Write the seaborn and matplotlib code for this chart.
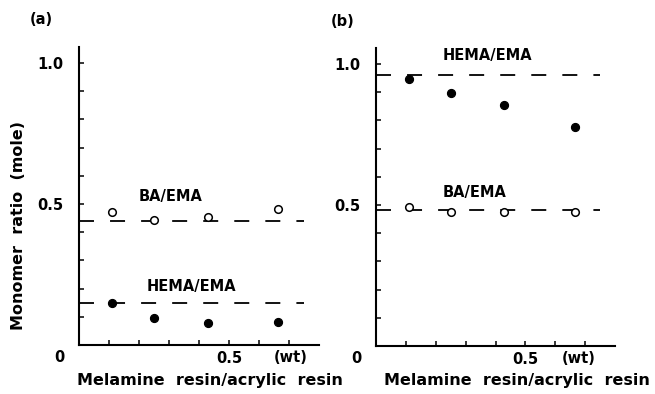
import matplotlib
matplotlib.use("Agg")
import matplotlib.pyplot as plt
import seaborn as sns
import pandas as pd

# Melamine resin / acrylic resin weight ratio of each sample
resin_ratio = [0.11, 0.25, 0.43, 0.665]

# (a) measured monomer ratios
a_ba = [0.470, 0.443, 0.455, 0.481]
a_hema = [0.148, 0.095, 0.077, 0.080]
a_ba_feed = 0.441
a_hema_feed = 0.148

# (b) measured monomer ratios
b_hema = [0.947, 0.896, 0.854, 0.776]
b_ba = [0.492, 0.474, 0.476, 0.474]
b_hema_feed = 0.960
b_ba_feed = 0.482

feed_line_end = 0.75
y_ticks = [i / 10 for i in range(1, 11)]
x_ticks = [i / 10 for i in range(1, 8)]
y_tick_labels = {0.5: "0.5", 1.0: "1.0"}
x_tick_labels = {0.5: "0.5"}

sns.set_style("white")
plt.rcParams["font.family"] = ["DejaVu Sans"]
plt.rcParams["font.weight"] = "bold"
plt.rcParams["text.color"] = "black"

fig = plt.figure(figsize=(6.55, 3.94), dpi=100)
ax_a = fig.add_axes([0.1206, 0.1244, 0.3664, 0.7563])
ax_b = fig.add_axes([0.5740, 0.1218, 0.3650, 0.7563])

FS = 10.5


def draw_panel(ax, ba, hema, ba_feed, hema_feed, labels, tag, tag_xy, wt_x):
    df_ba = pd.DataFrame({"x": resin_ratio, "y": ba})
    df_hema = pd.DataFrame({"x": resin_ratio, "y": hema})
    for level in (ba_feed, hema_feed):
        sns.lineplot(x=[0, feed_line_end], y=[level, level], ax=ax, color="black",
                     lw=1.3, dashes=(8.3, 8.9), zorder=1)
    sns.scatterplot(data=df_ba, x="x", y="y", ax=ax, marker="o", s=30,
                    facecolor="white", edgecolor="black", linewidth=1.1, zorder=3)
    sns.scatterplot(data=df_hema, x="x", y="y", ax=ax, marker="o", s=34,
                    color="black", edgecolor="black", linewidth=0.8, zorder=3)
    for text, (tx, ty) in labels:
        ax.text(tx, ty, text, fontsize=FS, fontweight="bold", ha="left",
                va="center", color="black")

    ax.set_xlim(0, 0.8)
    ax.set_ylim(0, 1.057)
    ax.set_xticks(x_ticks)
    ax.set_xticklabels([x_tick_labels.get(round(t, 1), "") for t in x_ticks])
    ax.set_yticks(y_ticks)
    ax.set_yticklabels([y_tick_labels.get(round(t, 1), "") for t in y_ticks])
    ax.tick_params(axis="both", direction="in", length=3.5, width=1.1,
                   color="black", labelsize=FS, labelcolor="black",
                   bottom=True, left=True)
    ax.tick_params(axis="y", pad=11)
    ax.tick_params(axis="x", pad=4)
    for lab in ax.get_xticklabels() + ax.get_yticklabels():
        lab.set_fontweight("bold")
    for side in ("top", "right"):
        ax.spines[side].set_visible(False)
    for side in ("left", "bottom"):
        ax.spines[side].set_color("black")
        ax.spines[side].set_linewidth(1.5)
    ax.set_xlabel("")
    ax.set_ylabel("")
    # origin label and unit on the x axis
    ax.annotate("0", xy=(0, 0), xycoords="data", xytext=(-14, -9),
                textcoords="offset points", fontsize=FS, fontweight="bold",
                ha="center", va="center", color="black")
    ax.annotate("(wt)", xy=(wt_x, 0), xycoords="data", xytext=(0, -9),
                textcoords="offset points", fontsize=FS, fontweight="bold",
                ha="center", va="center", color="black")
    fig.text(tag_xy[0], tag_xy[1], tag, fontsize=FS, fontweight="bold",
             ha="left", va="center", color="black")


draw_panel(ax_a, a_ba, a_hema, a_ba_feed, a_hema_feed,
           [("BA/EMA", (0.20, 0.525)), ("HEMA/EMA", (0.227, 0.206))],
           "(a)", (30 / 655, 1 - 20 / 394), 0.707)
draw_panel(ax_b, b_ba, b_hema, b_ba_feed, b_hema_feed,
           [("HEMA/EMA", (0.223, 1.032)), ("BA/EMA", (0.223, 0.543))],
           "(b)", (331 / 655, 1 - 22 / 394), 0.68)

xlabel = "Melamine  resin/acrylic  resin"
for cx in (210, 517):
    fig.text(cx / 655, 1 - 381 / 394, xlabel, fontsize=11.5, fontweight="bold",
             ha="center", va="center", color="black")
fig.text(19 / 655, 1 - 226 / 394, "Monomer  ratio  (mole)", fontsize=11.5,
         fontweight="bold", rotation=90, ha="center", va="center", color="black")

fig.savefig("out.png", dpi=100, facecolor="white")
